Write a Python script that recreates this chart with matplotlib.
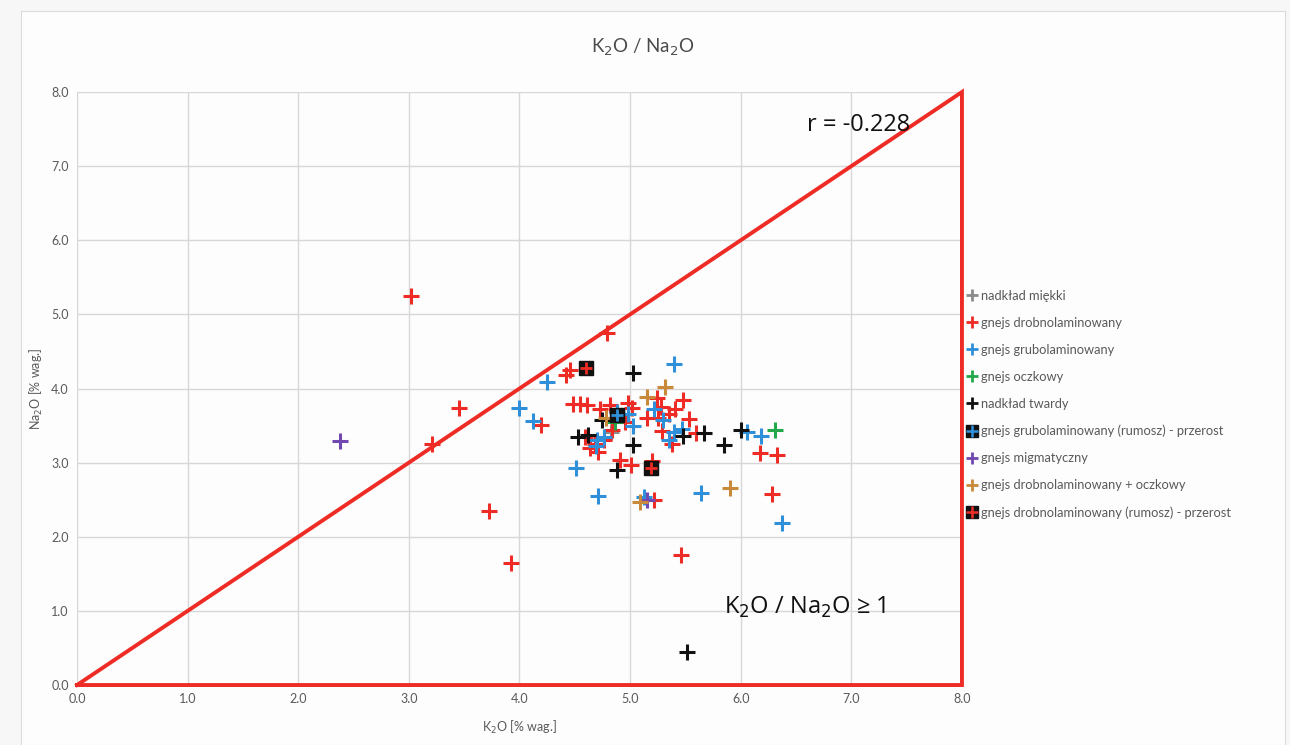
import matplotlib
matplotlib.use("Agg")
import matplotlib.pyplot as plt
from matplotlib.lines import Line2D

plt.rcParams['font.family'] = ['Lato', 'DejaVu Sans']

# ---- data (K2O, Na2O in % wag.) ----
miekki_x = [4.83]
miekki_y = [3.42]

drobno_x = [3.02, 3.21, 3.45, 3.72, 3.92, 4.19, 4.42, 4.46, 4.79, 4.48, 4.55, 4.61,
            4.73, 4.82, 4.98, 5.02, 4.59, 4.64, 4.71, 4.76, 4.84, 4.91, 5.01, 5.20,
            5.22, 5.15, 5.24, 5.28, 5.29, 5.35, 5.41, 5.48, 5.53, 5.38, 5.60, 5.46,
            6.17, 6.33, 6.28, 4.68, 5.25, 4.95]
drobno_y = [5.25, 3.25, 3.74, 2.35, 1.65, 3.51, 4.18, 4.25, 4.75, 3.79, 3.79, 3.78,
            3.72, 3.78, 3.81, 3.74, 3.35, 3.20, 3.14, 3.30, 3.44, 3.04, 2.97, 3.02,
            2.50, 3.60, 3.87, 3.75, 3.43, 3.65, 3.72, 3.85, 3.59, 3.25, 3.40, 1.75,
            3.13, 3.10, 2.58, 3.25, 3.60, 3.55]

grubo_x = [4.00, 4.12, 4.25, 4.51, 4.71, 5.40, 5.22, 5.40, 4.88, 4.98, 4.76, 4.69,
           5.30, 5.47, 5.64, 6.06, 6.18, 6.37, 4.70, 5.13, 5.03, 5.35]
grubo_y = [3.74, 3.56, 4.09, 2.93, 2.55, 4.33, 3.72, 3.41, 3.68, 3.66, 3.35, 3.22,
           3.58, 3.45, 2.59, 3.41, 3.36, 2.19, 3.30, 2.54, 3.50, 3.30]

oczkowy_x = [6.31, 4.86]
oczkowy_y = [3.44, 3.55]

twardy_x = [5.03, 4.53, 4.62, 4.75, 5.03, 4.88, 5.48, 5.67, 5.85, 6.00, 5.51]
twardy_y = [4.21, 3.35, 3.37, 3.58, 3.24, 2.90, 3.36, 3.40, 3.24, 3.44, 0.45]

grubo_rum_x = [4.88]
grubo_rum_y = [3.64]

migm_x = [2.38, 5.15]
migm_y = [3.29, 2.50]

drobno_ocz_x = [5.32, 5.90, 5.09, 4.78, 5.15]
drobno_ocz_y = [4.02, 2.66, 2.47, 3.60, 3.88]

drobno_rum_x = [4.60, 5.19]
drobno_rum_y = [4.28, 2.93]

r_text = "r = -0.228"
x_ticks = [0, 1, 2, 3, 4, 5, 6, 7, 8]
y_ticks = [0, 1, 2, 3, 4, 5, 6, 7, 8]
tri_x = [0, 8, 8, 0]
tri_y = [0, 8, 0, 0]

# ---- colours ----
C_GREY = '#8c8c8c'
C_RED = '#ee2b24'
C_BLUE = '#2f8fd8'
C_GREEN = '#22a84a'
C_BLACK = '#111111'
C_PURPLE = '#7048b0'
C_ORANGE = '#c88a3a'
TXT = '#595959'

fig = plt.figure(figsize=(12.9, 7.45), dpi=100, facecolor='#f7f7f7')
# white chart panel
panel = fig.add_axes([0.016, 0.0, 0.98, 0.985])
panel.set_facecolor('#fdfdfd')
panel.set_xticks([]); panel.set_yticks([])
for s in panel.spines.values():
    s.set_color('#dcdcdc')
panel.set_zorder(0)

ax = fig.add_axes([0.0597, 0.0805, 0.686, 0.796])
ax.set_zorder(1)
ax.set_facecolor('none')
ax.set_xlim(0, 8)
ax.set_ylim(0, 8)
ax.set_xticks(x_ticks)
ax.set_yticks(y_ticks)
ax.set_xticklabels([f"{v:.1f}" for v in x_ticks])
ax.set_yticklabels([f"{v:.1f}" for v in y_ticks])
ax.grid(True, color='#d9d6d6', linewidth=1.0)
ax.set_axisbelow(True)
for s in ax.spines.values():
    s.set_visible(False)
ax.tick_params(length=0, labelsize=9, labelcolor=TXT, pad=6)

ms = 11
mew = 2.2
kw = dict(linestyle='none', marker='+', markersize=ms, markeredgewidth=mew, zorder=3)

ax.plot(miekki_x, miekki_y, color=C_GREY, **kw)
ax.plot(drobno_x, drobno_y, color=C_RED, **kw)
ax.plot(grubo_x, grubo_y, color=C_BLUE, **kw)
ax.plot(oczkowy_x, oczkowy_y, color=C_GREEN, **kw)
ax.plot(twardy_x, twardy_y, color=C_BLACK, **kw)
ax.plot(grubo_rum_x, grubo_rum_y, linestyle='none', marker='s', markersize=10,
        color=C_BLACK, zorder=4)
ax.plot(grubo_rum_x, grubo_rum_y, linestyle='none', marker='+', markersize=9,
        markeredgewidth=2, color=C_BLUE, zorder=5)
ax.plot(migm_x, migm_y, color=C_PURPLE, **kw)
ax.plot(drobno_ocz_x, drobno_ocz_y, color=C_ORANGE, **kw)
ax.plot(drobno_rum_x, drobno_rum_y, linestyle='none', marker='s', markersize=10,
        color=C_BLACK, zorder=4)
ax.plot(drobno_rum_x, drobno_rum_y, linestyle='none', marker='+', markersize=9,
        markeredgewidth=2, color=C_RED, zorder=5)

# triangle
ax.plot(tri_x, tri_y, color=C_RED, linewidth=2.8, zorder=6, clip_on=False,
        solid_joinstyle='miter')

ax.text(6.6, 7.55, r_text, fontsize=17, color='#111111', ha='left', va='center',
        family=['Open Sans', 'DejaVu Sans'], zorder=7)
ax.text(5.85, 1.05, "K$_2$O / Na$_2$O ≥ 1", fontsize=17, color='#111111',
        ha='left', va='center', family=['Open Sans', 'DejaVu Sans'], zorder=7)

ax.set_xlabel("K$_2$O [% wag.]", fontsize=9, color=TXT, labelpad=10)
ax.set_ylabel("Na$_2$O [% wag.]", fontsize=9, color=TXT, labelpad=4)
fig.text(0.4985, 0.937, "K$_2$O / Na$_2$O", fontsize=13.5, color='#4a4a4a',
         ha='center', va='center')

# legend
def plus(c):
    return Line2D([], [], linestyle='none', marker='+', markersize=9,
                  markeredgewidth=2, color=c)

def boxed(c):
    return (Line2D([], [], linestyle='none', marker='s', markersize=9, color=C_BLACK),
            Line2D([], [], linestyle='none', marker='+', markersize=8,
                   markeredgewidth=1.8, color=c))

handles = [plus(C_GREY), plus(C_RED), plus(C_BLUE), plus(C_GREEN), plus(C_BLACK),
           boxed(C_BLUE), plus(C_PURPLE), plus(C_ORANGE), boxed(C_RED)]
labels = ["nadkład miękki", "gnejs drobnolaminowany", "gnejs grubolaminowany",
          "gnejs oczkowy", "nadkład twardy",
          "gnejs grubolaminowany (rumosz) - przerost", "gnejs migmatyczny",
          "gnejs drobnolaminowany + oczkowy",
          "gnejs drobnolaminowany (rumosz) - przerost"]
leg = fig.legend(handles, labels, loc='upper left', bbox_to_anchor=(0.745, 0.618),
                 frameon=False, fontsize=9.3, labelspacing=1.16, handlelength=0.9,
                 handletextpad=0.25, borderaxespad=0)
for t in leg.get_texts():
    t.set_color(TXT)

fig.savefig("out.png", dpi=100, facecolor=fig.get_facecolor())
